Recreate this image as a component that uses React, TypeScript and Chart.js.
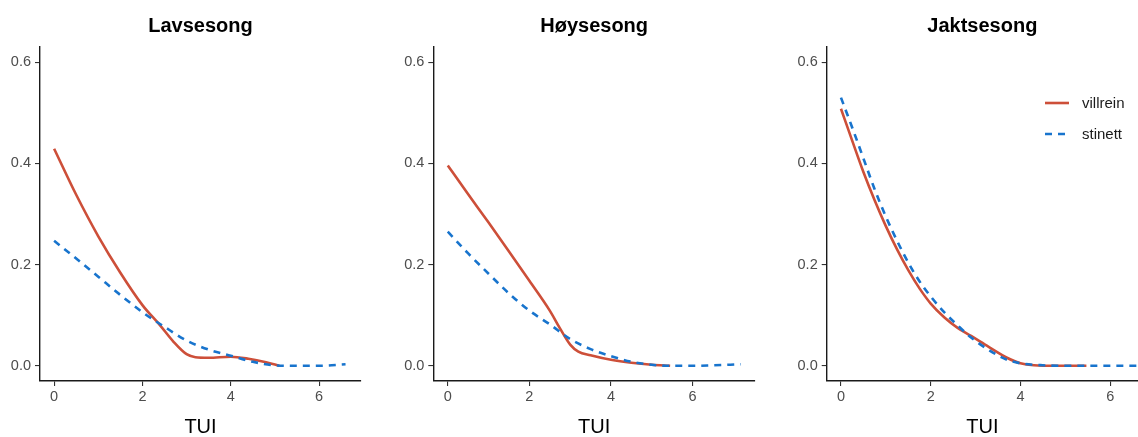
import React, { useEffect, useRef } from "react";
import { Chart, registerables } from "chart.js";

Chart.register(...registerables);

const panelTitles = ["Lavsesong", "Høysesong", "Jaktsesong"];
const seriesNames = ["villrein", "stinett"];
const seriesColors = ["#CD4F39", "#1874CD"];
const xTickValues = [0, 2, 4, 6];
const yTickValues = [0, 0.2, 0.4, 0.6];
const xAxisTitle = "TUI";

// Lavsesong
const lavVillreinX = [0, 0.5, 1.0, 1.5, 2.0, 2.4, 2.7, 3.0, 3.2, 3.5, 4.0, 4.4, 4.8, 5.1];
const lavVillreinY = [0.429, 0.338, 0.256, 0.184, 0.120, 0.080, 0.048, 0.023, 0.017, 0.016, 0.018, 0.014, 0.007, 0.0];
const lavStinettX = [0, 0.5, 1.0, 1.5, 2.0, 2.5, 3.0, 3.5, 4.0, 4.5, 5.0, 5.5, 6.0, 6.6];
const lavStinettY = [0.247, 0.212, 0.176, 0.140, 0.106, 0.077, 0.050, 0.032, 0.020, 0.008, 0.001, 0.0, 0.0, 0.003];

// Høysesong
const hoyVillreinX = [0, 0.5, 1.0, 1.5, 2.0, 2.5, 2.75, 3.0, 3.2, 3.5, 4.0, 4.5, 5.0, 5.45];
const hoyVillreinY = [0.396, 0.339, 0.283, 0.226, 0.168, 0.109, 0.074, 0.042, 0.028, 0.021, 0.012, 0.006, 0.002, 0.0];
const hoyStinettX = [0, 0.5, 1.0, 1.5, 2.0, 2.5, 3.0, 3.5, 4.0, 4.5, 5.0, 5.5, 6.0, 6.5, 7.18];
const hoyStinettY = [0.265, 0.222, 0.182, 0.143, 0.109, 0.082, 0.053, 0.033, 0.019, 0.008, 0.002, 0.0, 0.0, 0.001, 0.003];

// Jaktsesong
const jaktVillreinX = [0, 0.25, 0.5, 0.75, 1.0, 1.25, 1.5, 1.75, 2.0, 2.3, 2.6, 2.9, 3.3, 3.7, 4.0, 4.3, 4.8, 5.47];
const jaktVillreinY = [0.508, 0.445, 0.383, 0.327, 0.276, 0.230, 0.189, 0.153, 0.123, 0.096, 0.075, 0.059, 0.037, 0.016, 0.005, 0.001, 0.0, 0.0];
const jaktStinettX = [0, 0.25, 0.5, 0.75, 1.0, 1.25, 1.5, 1.75, 2.0, 2.3, 2.6, 2.9, 3.3, 3.7, 4.0, 4.5, 5.0, 6.0, 6.6];
const jaktStinettY = [0.530, 0.471, 0.410, 0.349, 0.295, 0.247, 0.204, 0.167, 0.137, 0.106, 0.080, 0.056, 0.031, 0.012, 0.005, 0.001, 0.0, 0.0, 0.0];

const panelSeries = [
  [[lavVillreinX, lavVillreinY], [lavStinettX, lavStinettY]],
  [[hoyVillreinX, hoyVillreinY], [hoyStinettX, hoyStinettY]],
  [[jaktVillreinX, jaktVillreinY], [jaktStinettX, jaktStinettY]],
];

const FONT = "'Liberation Sans', Arial, Helvetica, sans-serif";
const W = 1138;
const H = 437;

const panelLayout = [
  { left: 0, width: 380, yAxisW: 40, padRight: 19, xMin: -0.32, xMax: 6.95, legend: false },
  { left: 380, width: 390, yAxisW: 53.3, padRight: 15, xMin: -0.355, xMax: 7.53, legend: false },
  { left: 770, width: 368, yAxisW: 56.7, padRight: 0, xMin: -0.318, xMax: 6.62, legend: true },
];

const legendPlugin = {
  id: "insideLegend",
  afterDraw(chart: any, _args: any, opts: any) {
    if (!opts || !opts.show) return;
    const ctx = chart.ctx;
    const area = chart.chartArea;
    chart.data.datasets.forEach((ds: any, i: number) => {
      const y = area.top + 56 + i * 31;
      const x0 = area.right - 93;
      ctx.save();
      ctx.strokeStyle = ds.borderColor;
      ctx.lineWidth = ds.borderWidth;
      ctx.setLineDash(ds.borderDash || []);
      ctx.beginPath();
      ctx.moveTo(x0, y);
      ctx.lineTo(x0 + 24, y);
      ctx.stroke();
      ctx.setLineDash([]);
      ctx.fillStyle = "#1a1a1a";
      ctx.font = `15px ${FONT}`;
      ctx.textBaseline = "middle";
      ctx.textAlign = "left";
      ctx.fillText(ds.label, area.right - 56, y + 0.5);
      ctx.restore();
    });
  },
};

export default function App() {
  const refs = [useRef<HTMLCanvasElement>(null), useRef<HTMLCanvasElement>(null), useRef<HTMLCanvasElement>(null)];

  useEffect(() => {
    const charts: Chart[] = [];
    panelLayout.forEach((p, pi) => {
      const canvas = refs[pi].current;
      if (!canvas) return;
      const datasets = panelSeries[pi].map(([xs, ys], si) => ({
        label: seriesNames[si],
        data: xs.map((x, i) => ({ x, y: ys[i] })),
        borderColor: seriesColors[si],
        backgroundColor: seriesColors[si],
        borderWidth: 2.6,
        borderDash: si === 1 ? [7, 6] : [],
        borderCapStyle: "butt",
        pointRadius: 0,
        cubicInterpolationMode: "monotone",
        fill: false,
        order: si === 0 ? 1 : 0,
      }));
      const c = new Chart(canvas, {
        type: "line",
        data: { datasets } as any,
        plugins: [legendPlugin],
        options: {
          responsive: false,
          animation: false,
          devicePixelRatio: 1,
          layout: { padding: { left: 0, right: p.padRight, top: 0, bottom: 0 } },
          plugins: {
            legend: { display: false },
            tooltip: { enabled: false },
            title: {
              display: true,
              text: panelTitles[pi],
              fullSize: false,
              color: "#000",
              font: { family: FONT, size: 20, weight: "bold", lineHeight: 1.2 },
              padding: { top: 14.5, bottom: 8.5 },
            },
            insideLegend: { show: p.legend },
          } as any,
          scales: {
            x: {
              type: "linear",
              min: p.xMin,
              max: p.xMax,
              afterBuildTicks: (scale: any) => {
                scale.ticks = xTickValues.map((v) => ({ value: v }));
              },
              afterFit: (scale: any) => {
                scale.height = 56;
              },
              ticks: {
                autoSkip: false,
                maxRotation: 0,
                padding: 2,
                color: "#4D4D4D",
                font: { family: FONT, size: 14.5 },
                callback: (v: any) => String(v),
              },
              grid: { display: true, drawOnChartArea: false, drawTicks: true, tickLength: 5, color: "#333", lineWidth: 1.1 },
              border: { display: true, color: "#1a1a1a", width: 1.4 },
              title: {
                display: true,
                text: xAxisTitle,
                color: "#000",
                font: { family: FONT, size: 20, lineHeight: 1 },
                padding: { top: 0, bottom: 0 },
              },
            },
            y: {
              type: "linear",
              min: -0.03,
              max: 0.63,
              afterBuildTicks: (scale: any) => {
                scale.ticks = yTickValues.map((v) => ({ value: v }));
              },
              afterFit: (scale: any) => {
                scale.width = p.yAxisW;
              },
              ticks: {
                autoSkip: false,
                padding: 4,
                color: "#4D4D4D",
                font: { family: FONT, size: 14.5 },
                callback: (v: any) => Number(v).toFixed(1),
              },
              grid: { display: true, drawOnChartArea: false, drawTicks: true, tickLength: 5, color: "#333", lineWidth: 1.1 },
              border: { display: true, color: "#1a1a1a", width: 1.4 },
            },
          },
        } as any,
      });
      charts.push(c);
    });
    return () => charts.forEach((c) => c.destroy());
  }, []);

  return (
    <div style={{ position: "absolute", left: 0, top: 0, width: W, height: H, background: "#fff", overflow: "hidden" }}>
      {panelLayout.map((p, i) => (
        <canvas
          key={i}
          ref={refs[i]}
          width={p.width}
          height={H}
          style={{ position: "absolute", left: p.left, top: 0, width: p.width, height: H }}
        />
      ))}
    </div>
  );
}
